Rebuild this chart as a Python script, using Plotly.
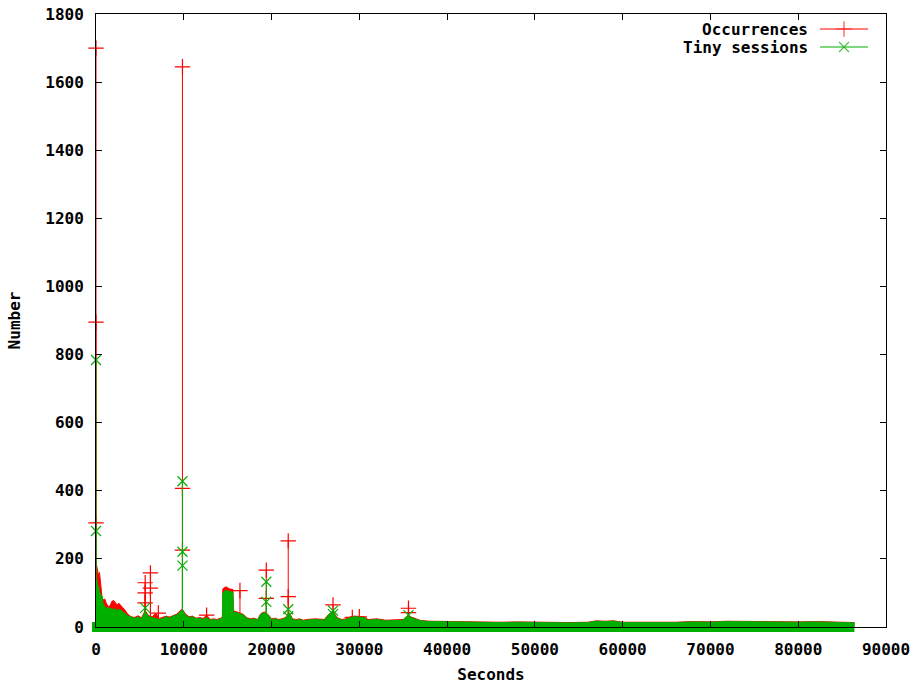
import plotly.graph_objects as go

# ---------------- data ----------------
# dense background level of each series (seconds, count)
base_x = [0, 100, 200, 300, 400, 500, 600, 700, 800, 1000, 1200, 1400, 1600, 1800, 2000, 2200,
          2400, 2600, 2800, 3000, 3300, 3600, 4000, 4400, 4800, 5200, 5600, 6000, 6400, 6800,
          7200, 7600, 8000, 8400, 8800, 9200, 9600, 9800, 9900, 10200, 10600, 11000, 11400,
          11800, 12200, 12600, 13000, 13400, 13800, 14200, 14400, 14450, 14800, 15200, 15600,
          15650, 16000, 16400, 16800, 17200, 17600, 18000, 18400, 18800, 19200, 19600, 20000,
          20400, 20800, 21200, 21600, 22000, 22400, 22800, 23200, 23600, 24000, 25000, 26000,
          26500, 27000, 27500, 28000, 28500, 29000, 29500, 30000, 30500, 31000, 32000, 33000,
          34000, 35000, 35500, 36000, 37000, 38000, 40000, 42000, 44000, 46000, 48000, 50000,
          52000, 54000, 56000, 57000, 58000, 59000, 60000, 62000, 64000, 66000, 68000, 70000,
          72000, 74000, 76000, 78000, 80000, 82000, 84000, 86400]

tiny_base_y = [130, 140, 110, 120, 95, 100, 85, 90, 70, 60, 55, 58, 52, 55, 50, 54,
               48, 52, 50, 47, 40, 33, 28, 25, 30, 24, 45, 30, 28, 25,
               22, 25, 30, 26, 32, 35, 45, 50, 48, 35, 28, 30, 24,
               26, 22, 28, 20, 22, 20, 24, 26, 100, 108, 104, 102,
               45, 42, 40, 35, 25, 22, 24, 20, 38, 42, 35, 22,
               24, 20, 22, 26, 40, 22, 20, 22, 18, 20, 22, 20,
               35, 42, 25, 20, 22, 28, 30, 30, 28, 20, 22, 18,
               20, 20, 30, 26, 18, 16, 15, 14, 14, 13, 14, 13,
               13, 12, 13, 17, 16, 17, 13, 13, 12, 13, 15, 14,
               16, 15, 14, 15, 14, 15, 13, 12]

occ_base_y = [190, 175, 165, 150, 160, 130, 120, 85, 80, 82, 68, 60, 62, 75, 78, 72,
              65, 70, 62, 58, 50, 38, 30, 28, 33, 27, 48, 33, 30, 40,
              25, 28, 32, 29, 34, 38, 48, 52, 50, 38, 30, 32, 26,
              28, 25, 35, 22, 24, 22, 26, 28, 112, 118, 112, 110,
              48, 45, 42, 37, 27, 24, 26, 22, 40, 44, 37, 24,
              26, 22, 24, 28, 42, 24, 22, 24, 20, 22, 24, 22,
              37, 45, 27, 22, 24, 30, 32, 32, 30, 22, 24, 20,
              22, 22, 33, 28, 19, 17, 16, 15, 15, 14, 15, 14,
              14, 13, 14, 18, 17, 18, 14, 14, 13, 14, 16, 15,
              17, 16, 15, 16, 15, 16, 14, 13]

# isolated peaks
occ_peak_x = [0, 0, 0, 5600, 5600, 5600, 6200, 6200, 7100, 9850, 9850, 9850, 12600,
              16400, 19400, 19400, 21900, 21900, 27000, 29200, 30000, 35600, 35600]
occ_peak_y = [1700, 895, 306, 130, 100, 71, 159, 114, 41, 1645, 407, 226, 35,
              107, 167, 84, 253, 89, 65, 28, 30, 55, 42]

tiny_peak_x = [0, 0, 5600, 9850, 9850, 9850, 19400, 19400, 21900, 21900, 27000, 27000, 35600]
tiny_peak_y = [784, 282, 56, 428, 221, 180, 133, 74, 52, 31, 48, 38, 35]

x_ticks = [0, 10000, 20000, 30000, 40000, 50000, 60000, 70000, 80000, 90000]
y_ticks = [0, 200, 400, 600, 800, 1000, 1200, 1400, 1600, 1800]

series_names = ["Occurrences", "Tiny sessions"]

# ---------------- styling ----------------
RED = "#ff0000"
GREEN = "#00b000"
FONT = dict(family="DejaVu Sans Mono", size=16, color="black", weight="bold")

W, H = 917, 684
L, R, T, B = 96, 31, 14, 57
PW, PH = W - L - R, H - T - B

fig = go.Figure()

# Occurrences (drawn first)
fig.add_trace(go.Scatter(x=base_x, y=occ_base_y, mode="lines", fill="tozeroy",
                         line=dict(color=RED, width=1), fillcolor=RED,
                         showlegend=False, hoverinfo="skip"))
fig.add_trace(go.Scatter(x=occ_peak_x, y=occ_peak_y, mode="markers", cliponaxis=False,
                         marker=dict(symbol="cross-thin", size=11,
                                     line=dict(color=RED, width=1.2)),
                         error_y=dict(type="data", symmetric=False,
                                      array=[0] * len(occ_peak_y), arrayminus=occ_peak_y,
                                      width=0, thickness=1, color=RED),
                         showlegend=False))

# Tiny sessions (drawn on top)
fig.add_trace(go.Scatter(x=base_x, y=tiny_base_y, mode="lines", fill="tozeroy",
                         line=dict(color=GREEN, width=1), fillcolor=GREEN,
                         showlegend=False, hoverinfo="skip"))
fig.add_trace(go.Scatter(x=tiny_peak_x, y=tiny_peak_y, mode="markers", cliponaxis=False,
                         marker=dict(symbol="x-thin", size=10,
                                     line=dict(color=GREEN, width=1.2)),
                         error_y=dict(type="data", symmetric=False,
                                      array=[0] * len(tiny_peak_y), arrayminus=tiny_peak_y,
                                      width=0, thickness=1, color=GREEN),
                         showlegend=False))

# band of zero-valued point markers along the time axis
xr = [x_ticks[0], x_ticks[-1]]
bx0 = (base_x[0] - xr[0]) / (xr[1] - xr[0]) - 4 / PW
bx1 = (base_x[-1] - xr[0]) / (xr[1] - xr[0])
fig.add_shape(type="rect", xref="paper", yref="paper", x0=bx0, x1=bx1,
              y0=-5 / PH, y1=5 / PH, fillcolor=GREEN, line=dict(width=0), layer="below")

# custom gnuplot-style legend (text left of sample)
leg_rows = [(series_names[0], RED, "cross-thin", 11, 1 - 15 / PH),
            (series_names[1], GREEN, "x-thin", 10, 1 - 33 / PH)]
lx0, lx1 = (820 - L) / PW, (868 - L) / PW
for name, col, sym, sz, ly in leg_rows:
    fig.add_trace(go.Scatter(x=[lx0, (lx0 + lx1) / 2, lx1], y=[ly, ly, ly],
                             xaxis="x2", yaxis="y2", mode="lines+markers",
                             line=dict(color=col, width=1.2),
                             marker=dict(symbol=sym, size=[0, sz, 0],
                                         line=dict(color=col, width=1.2)),
                             showlegend=False, hoverinfo="skip", cliponaxis=False))
    fig.add_annotation(xref="paper", yref="paper", x=(810 - L) / PW, y=ly,
                       text=name, showarrow=False, xanchor="right", yanchor="middle",
                       font=FONT)

axis_common = dict(showline=True, linecolor="black", linewidth=1, mirror="ticks",
                   ticks="inside", ticklen=6, tickcolor="black", tickwidth=1,
                   showgrid=False, zeroline=False, tickfont=FONT, automargin=False)

fig.update_layout(
    width=W, height=H,
    margin=dict(l=L, r=R, t=T, b=B, pad=0, autoexpand=False),
    paper_bgcolor="white", plot_bgcolor="white",
    showlegend=False,
    xaxis=dict(range=xr, tickvals=x_ticks, ticktext=[str(v) for v in x_ticks],
               ticklabelstandoff=8,
               title=dict(text="Seconds", font=FONT, standoff=10), **axis_common),
    yaxis=dict(range=[y_ticks[0], y_ticks[-1]], tickvals=y_ticks,
               ticktext=[str(v) for v in y_ticks], ticklabelstandoff=8,
               title=dict(text="Number", font=FONT, standoff=20), **axis_common),
    xaxis2=dict(overlaying="x", range=[0, 1], visible=False, fixedrange=True),
    yaxis2=dict(overlaying="y", range=[0, 1], visible=False, fixedrange=True),
)

fig.write_html("out.html")
